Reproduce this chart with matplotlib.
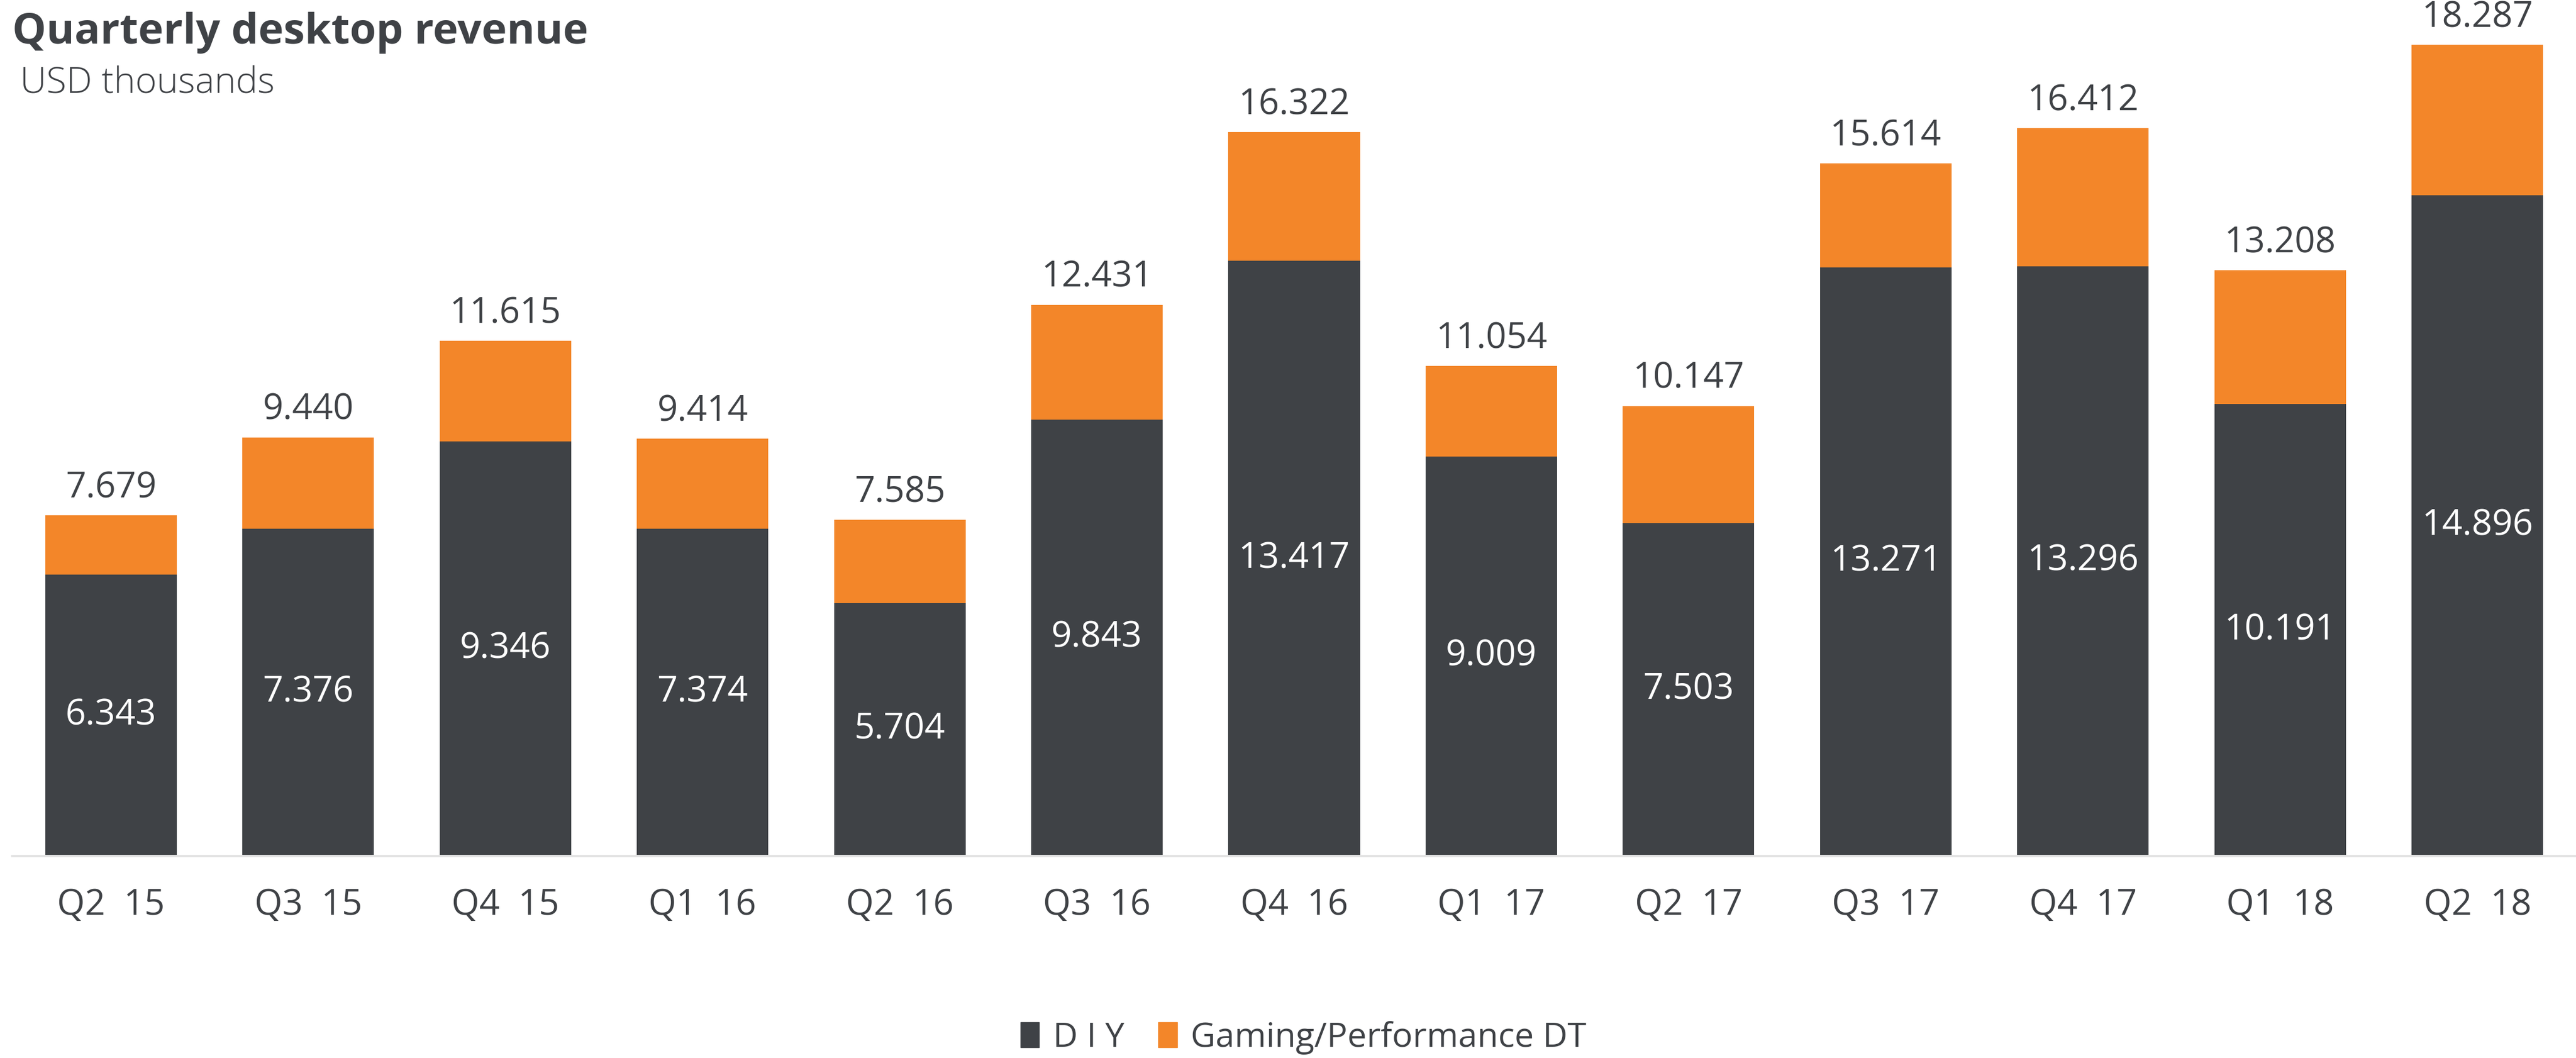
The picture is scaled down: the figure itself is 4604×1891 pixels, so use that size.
import matplotlib
matplotlib.use("Agg")
import matplotlib.pyplot as plt
from matplotlib.patches import Patch

quarters = ["Q2  15", "Q3  15", "Q4  15", "Q1  16", "Q2  16", "Q3  16", "Q4  16",
            "Q1  17", "Q2  17", "Q3  17", "Q4  17", "Q1  18", "Q2  18"]
diy = [6.343, 7.376, 9.346, 7.374, 5.704, 9.843, 13.417, 9.009, 7.503, 13.271, 13.296, 10.191, 14.896]
total = [7.679, 9.440, 11.615, 9.414, 7.585, 12.431, 16.322, 11.054, 10.147, 15.614, 16.412, 13.208, 18.287]
gaming = [t - d for t, d in zip(total, diy)]

DARK = "#3f4246"
ORANGE = "#f38629"
TXT = "#3f4246"

plt.rcParams['font.family'] = ['Open Sans', 'DejaVu Sans']

fig = plt.figure(figsize=(46.04, 18.91), dpi=100)
ax = fig.add_axes([22/4604, 1 - 1530/1891, 1 - 22/4604, 1530/1891])

x = list(range(len(quarters)))
w = 0.667
ax.bar(x, diy, width=w, color=DARK, label="D I Y")
ax.bar(x, gaming, width=w, bottom=diy, color=ORANGE, label="Gaming/Performance DT")

for xi, d, t in zip(x, diy, total):
    ax.text(xi, d / 2, f"{d:.3f}", ha="center", va="center", color="white", fontsize=46)
    ax.annotate(f"{t:.3f}", (xi, t), xytext=(0, 12), textcoords="offset points",
                ha="center", va="bottom", color=TXT, fontsize=46)

ax.set_xlim(-0.5, 12.5)
ax.set_ylim(0, 19.30)
ax.set_xticks(x)
ax.set_xticklabels(quarters, fontsize=46, color=TXT)
ax.tick_params(axis="x", length=0, pad=40)
ax.set_yticks([])
for s in ["top", "right", "left"]:
    ax.spines[s].set_visible(False)
ax.spines["bottom"].set_color("#e3e3e3")
ax.spines["bottom"].set_linewidth(3)

fig.text(22/4604, 1 - 58/1891, "Quarterly desktop revenue", fontsize=55, fontweight="bold",
         color=TXT, va="center", ha="left")
fig.text(36/4604, 1 - 150/1891, "USD thousands", fontsize=47, fontweight="light",
         color=TXT, va="center", ha="left")

handles = [Patch(color=DARK, label="D I Y"), Patch(color=ORANGE, label="Gaming/Performance DT")]
fig.legend(handles=handles, loc="center", bbox_to_anchor=(0.506, 1 - 1855/1891), ncol=2,
           frameon=False, fontsize=44, handlelength=0.55, handleheight=0.75,
           handletextpad=0.4, columnspacing=1.0, labelcolor=TXT)

fig.savefig("out.png", dpi=100, facecolor="white")
